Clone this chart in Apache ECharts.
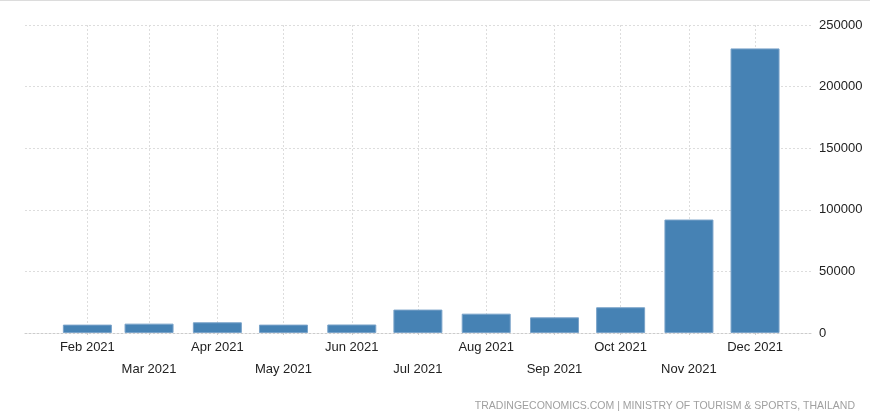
<!DOCTYPE html>
<html>
<head>
<meta charset="utf-8">
<script src="https://cdn.jsdelivr.net/npm/echarts@6/dist/echarts.min.js"></script>
<style>html,body{margin:0;padding:0;background:#fff;}#c{width:870px;height:418px;}</style>
</head>
<body>
<div id="c"></div>
<script>
var months = ['2021-02-01','2021-03-01','2021-04-01','2021-05-01','2021-06-01','2021-07-01','2021-08-01','2021-09-01','2021-10-01','2021-11-01','2021-12-01'];
var arrivals = [6800, 7600, 8700, 6800, 6900, 19000, 15700, 12700, 20900, 92100, 231000];
var monthNames = ['Jan','Feb','Mar','Apr','May','Jun','Jul','Aug','Sep','Oct','Nov','Dec'];
var yTicks = [0, 50000, 100000, 150000, 200000, 250000];

function ts(s){ var p = s.split('-'); return Date.UTC(+p[0], +p[1]-1, +p[2]); }
var tickValues = months.map(ts);
var data = months.map(function(m, i){ return [ts(m), arrivals[i]]; });
var DAY = 86400000;

var chart = echarts.init(document.getElementById('c'));
chart.setOption({
  animation: false,
  backgroundColor: '#fff',
  grid: { left: 25, right: 57, top: 25, bottom: 85, containLabel: false },
  xAxis: {
    type: 'value',
    min: tickValues[0] - 28.3 * DAY,
    max: tickValues[tickValues.length - 1] + 26.3 * DAY,
    axisLine: { show: true, lineStyle: { color: '#cccccc', type: [2, 2], width: 1 } },
    axisTick: { show: true, customValues: tickValues, length: 4, lineStyle: { color: '#cccccc', type: [2, 2] } },
    splitLine: { show: true, lineStyle: { color: '#dddddd', type: [2, 2], width: 1 } },
    axisLabel: {
      customValues: tickValues,
      margin: 3,
      color: '#222222',
      fontFamily: 'Liberation Sans',
      fontSize: 13,
      lineHeight: 22,
      hideOverlap: false,
      formatter: function (v) {
        var d = new Date(v);
        var m = d.getUTCMonth();
        var txt = monthNames[m] + ' ' + d.getUTCFullYear();
        return (m % 2 === 0) ? '\n' + txt : txt;
      }
    }
  },
  yAxis: {
    type: 'value',
    position: 'right',
    min: 0,
    max: 250000,
    interval: 50000,
    axisLine: { show: false },
    axisTick: { show: false },
    splitLine: { show: true, lineStyle: { color: '#dddddd', type: [2, 2], width: 1 } },
    axisLabel: {
      margin: 6,
      color: '#222222',
      fontFamily: 'Liberation Sans',
      fontSize: 13,
      formatter: function (v) { return String(v); }
    }
  },
  series: [{
    type: 'bar',
    data: data,
    barWidth: 49,
    itemStyle: { color: '#4682b4', borderColor: '#7aa3c9', borderWidth: 1 }
  }],
  graphic: [
    { type: 'rect', shape: { x: 0, y: 0, width: 870, height: 1 }, style: { fill: '#dcdcdc' }, silent: true },
    { type: 'text', right: 15, top: 401, style: { text: 'TRADINGECONOMICS.COM | MINISTRY OF TOURISM & SPORTS, THAILAND', fill: '#a0a0a0', font: '10.5px "Liberation Sans"' } }
  ]
});
</script>
</body>
</html>
